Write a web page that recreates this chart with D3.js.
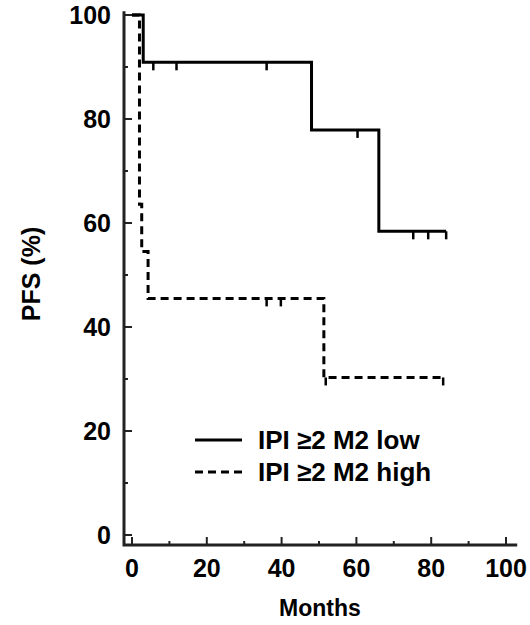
<!DOCTYPE html>
<meta charset="utf-8">
<style>
  body { margin: 0; background: #fff; }
  text { font-family: "Liberation Sans", Arial, sans-serif; font-weight: bold; fill: #000; }
  .axis-line { stroke: #222; stroke-width: 3px; fill: none; }
  .tick { stroke: #222; stroke-width: 2px; }
  .km { fill: none; stroke: #000; stroke-width: 3px; }
  .censor { stroke: #000; stroke-width: 2.5px; }
</style>
<body></body>
<script src="https://d3js.org/d3.v7.min.js"></script>
<script>
// step curves (months, PFS %)
var lowTimes = [0, 3, 48, 66, 84];
var lowSurv = [100, 90.9, 77.9, 58.4, 58.4];
var lowCensor = [[5.7, 90.9], [11.9, 90.9], [36, 90.9], [60.3, 77.9], [75.2, 58.4], [79.2, 58.4], [84, 58.4]];

var highTimes = [0, 2, 2.6, 4.3, 51.3, 83.2];
var highSurv = [100, 63.6, 54.5, 45.5, 30.3, 30.3];
var highCensor = [[36, 45.5], [39.8, 45.5], [51.8, 30.3], [83.2, 30.3]];

var xTicks = [0, 20, 40, 60, 80, 100];
var xMinor = [10, 30, 50, 70, 90];
var yTicks = [0, 20, 40, 60, 80, 100];
var yMinor = [10, 30, 50, 70, 90];

var legendNames = ["IPI \u22652 M2 low", "IPI \u22652 M2 high"];

var width = 530, height = 625;

var svg = d3.select("body").append("svg")
    .attr("width", width)
    .attr("height", height);

var x = d3.scaleLinear().domain([0, 100]).range([132, 506]);
var y = d3.scaleLinear().domain([0, 100]).range([535, 15]);

// axes: offset frame, ticks pointing inward
var axisX = 124, axisY = 545;
svg.append("path")
  .attr("class", "axis-line")
  .attr("d", "M" + axisX + "," + y(100.7) + "V" + axisY + "H" + x(103));

svg.selectAll(".ytick").data(yTicks.concat(yMinor)).enter().append("line")
  .attr("class", "tick")
  .attr("x1", axisX)
  .attr("x2", function(d) { return axisX + (d % 20 == 0 ? 8 : 4); })
  .attr("y1", function(d) { return y(d); })
  .attr("y2", function(d) { return y(d); });

svg.selectAll(".xtick").data(xTicks.concat(xMinor)).enter().append("line")
  .attr("class", "tick")
  .attr("x1", function(d) { return x(d); })
  .attr("x2", function(d) { return x(d); })
  .attr("y1", axisY)
  .attr("y2", function(d) { return axisY - (d % 20 == 0 ? 8 : 4); });

svg.selectAll(".ylab").data(yTicks).enter().append("text")
  .attr("x", 111)
  .attr("y", function(d) { return y(d); })
  .attr("dy", "0.36em")
  .attr("text-anchor", "end")
  .style("font-size", "25px")
  .text(function(d) { return d; });

svg.selectAll(".xlab").data(xTicks).enter().append("text")
  .attr("x", function(d) { return x(d); })
  .attr("y", 577)
  .attr("text-anchor", "middle")
  .style("font-size", "25px")
  .text(function(d) { return d; });

svg.append("text")
  .attr("x", 320)
  .attr("y", 616)
  .attr("text-anchor", "middle")
  .style("font-size", "23px")
  .text("Months");

svg.append("text")
  .attr("transform", "translate(40,274) rotate(-90)")
  .attr("text-anchor", "middle")
  .style("font-size", "25px")
  .text("PFS (%)");

// KM curves
var step = d3.line()
  .x(function(d) { return x(d[0]); })
  .y(function(d) { return y(d[1]); })
  .curve(d3.curveStepAfter);

var lowPts = d3.zip(lowTimes, lowSurv);
var highPts = d3.zip(highTimes, highSurv);

svg.append("path").datum(highPts)
  .attr("class", "km")
  .attr("stroke-dasharray", "8,5")
  .attr("d", step);

svg.append("path").datum(lowPts)
  .attr("class", "km")
  .attr("d", step);

function censors(data) {
  svg.append("g").selectAll("line").data(data).enter().append("line")
    .attr("class", "censor")
    .attr("x1", function(d) { return x(d[0]); })
    .attr("x2", function(d) { return x(d[0]); })
    .attr("y1", function(d) { return y(d[1]); })
    .attr("y2", function(d) { return y(d[1]) + 8; });
}
censors(lowCensor);
censors(highCensor);

// legend
var legend = svg.append("g").attr("transform", "translate(195,440)");
legendNames.forEach(function(name, i) {
  legend.append("line")
    .attr("class", "km")
    .attr("x1", 0).attr("x2", 47)
    .attr("y1", i * 32).attr("y2", i * 32)
    .attr("stroke-dasharray", i == 1 ? "8,5" : null);
  legend.append("text")
    .attr("x", 63)
    .attr("y", i * 32)
    .attr("dy", "0.36em")
    .style("font-size", "26px")
    .text(name);
});
</script>
